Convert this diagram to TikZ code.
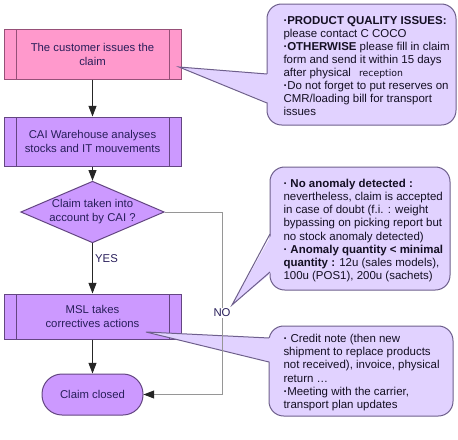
\documentclass[tikz,border=0pt]{standalone}
\usepackage{fontspec}
\setmainfont{Liberation Sans}
\newfontfamily\recfont{DejaVu Sans}
\usetikzlibrary{arrows.meta,shapes.geometric}

\definecolor{pinkfill}{RGB}{255,153,204}
\definecolor{pinkline}{RGB}{150,80,120}
\definecolor{purpfill}{RGB}{204,153,255}
\definecolor{purpline}{RGB}{100,70,130}
\definecolor{callfill}{RGB}{225,210,255}
\definecolor{callline}{RGB}{110,95,140}
\definecolor{boxtext}{RGB}{40,30,90}
\definecolor{calltxt}{RGB}{20,15,35}
\definecolor{nogray}{RGB}{150,150,150}

\newcommand{\dotb}{{\bfseries ·}}

\tikzset{every picture/.style={line width=0.75pt}}
\tikzset{
  procbox/.style={draw=#1, minimum width=132.75pt, inner sep=0pt, align=center,
    text=boxtext, font=\fontsize{8.5}{10.5}\selectfont,
    path picture={
      \draw [#1] ([xshift=9pt]path picture bounding box.north west) -- ([xshift=9pt]path picture bounding box.south west);
      \draw [#1] ([xshift=-9pt]path picture bounding box.north east) -- ([xshift=-9pt]path picture bounding box.south east);
    }},
  decision/.style={diamond, draw=purpline, fill=purpfill, aspect=2.33, minimum width=105pt,
    minimum height=45pt, inner sep=0pt, align=center, text=boxtext, font=\fontsize{8.5}{10.5}\selectfont},
  terminal/.style={rectangle, rounded corners=15pt, draw=purpline, fill=purpfill, minimum width=75.75pt,
    minimum height=30.75pt, text=boxtext, font=\fontsize{8.5}{10.5}\selectfont},
  callbox/.style={rectangle, rounded corners=11pt, draw=callline, fill=callfill},
  calltext/.style={anchor=west, inner sep=0pt, align=left, text=calltxt, font=\fontsize{8.6}{9.8}\selectfont},
  flowarrow/.style={draw=black!85, -{Triangle[length=8pt,width=6pt]}},
  noline/.style={draw=nogray, -{Triangle[length=8pt,width=6pt,color=black!85]}},
  lbl/.style={inner sep=1pt, text=boxtext, font=\fontsize{8.5}{10.5}\selectfont},
}

\begin{document}
\begin{tikzpicture}[x=0.75pt,y=0.75pt,yscale=-1,xscale=1]
\useasboundingbox (0,0) rectangle (458,440);

% Flow boxes
\node [procbox=pinkline, fill=pinkfill, minimum height=37.5pt] (cust) at (92.5,54) {The customer issues the\\claim};
\node [procbox=purpline, fill=purpfill, minimum height=36.75pt] (cai) at (92.5,141.5) {CAI Warehouse analyses\\stocks and IT mouvements};
\node [decision] (taken) at (92.5,212) {Claim taken into\\account by CAI ?};
\node [procbox=purpline, fill=purpfill, minimum height=33.75pt] (msl) at (92.5,316.5) {MSL takes\\correctives actions};
\node [terminal] (closed) at (92.5,394.5) {Claim closed};

% Arrows
\draw [flowarrow] (cust) -- (cai);
\draw [flowarrow] (cai) -- (taken);
\draw [flowarrow] (taken) -- (msl);
\draw [flowarrow] (msl) -- (closed);
\node [lbl] (yes) at (106.5,259) {YES};

% Callout: quality issues
\node [callbox, minimum width=141.75pt, minimum height=90.75pt] (quality) at (361.5,64.5) {};
\coordinate (qtip) at (179,67);
\coordinate (qa) at (267,74);
\coordinate (qb) at (267,103);
\fill [callfill] (qtip) -- ([xshift=1.5pt]qa) -- ([xshift=1.5pt]qb) -- cycle;
\draw [callline] (qa) -- (qtip) -- (qb);
\node [calltext] (qualtext) at (283,66) {{\bfseries ·PRODUCT QUALITY ISSUES:}\\
please contact C COCO\\
{\bfseries ·OTHERWISE} please fill in claim\\
form and send it within 15 days\\
after physical\hspace{6pt}{\recfont\fontsize{7}{9.8}\selectfont reception}\\
\dotb Do not forget to put reserves on\\
CMR/loading bill for transport\\
issues};

% Callout: anomaly
\node [callbox, minimum width=135pt, minimum height=92.25pt] (anomaly) at (360,228.5) {};
\coordinate (atip) at (232,305);
\coordinate (aa) at (270,234);
\coordinate (ab) at (270,272);
\fill [callfill] (atip) -- ([xshift=1.5pt]aa) -- ([xshift=1.5pt]ab) -- cycle;
\draw [callline] (aa) -- (atip) -- (ab);
\node [calltext] (anomtext) at (283,230.5) {\dotb{} {\bfseries No anomaly detected :}\\
nevertheless, claim is accepted\\
in case of doubt (f.i. : weight\\
bypassing on picking report but\\
no stock anomaly detected)\\
\dotb{} {\bfseries Anomaly quantity < minimal}\\
{\bfseries quantity :} 12u (sales models),\\
100u (POS1), 200u (sachets)};

% Callout: corrective actions
\node [callbox, minimum width=138pt, minimum height=67.5pt] (credit) at (361,371) {};
\coordinate (ctip) at (146,332);
\coordinate (ca) at (269,338);
\coordinate (cb) at (269,362);
\fill [callfill] (ctip) -- ([xshift=1.5pt]ca) -- ([xshift=1.5pt]cb) -- cycle;
\draw [callline] (ca) -- (ctip) -- (cb);
\node [calltext] (credtext) at (283,372.5) {\dotb{} Credit note (then new\\
shipment to replace products\\
not received), invoice, physical\\
return …\\
\dotb Meeting with the carrier,\\
transport plan updates};

% NO branch
\coordinate (nobend) at (222,394.5);
\draw [noline] (taken.east) -| (nobend) -- (closed.east);
\node [lbl, fill=white] (no) at (222,313) {NO};

\end{tikzpicture}
\end{document}
